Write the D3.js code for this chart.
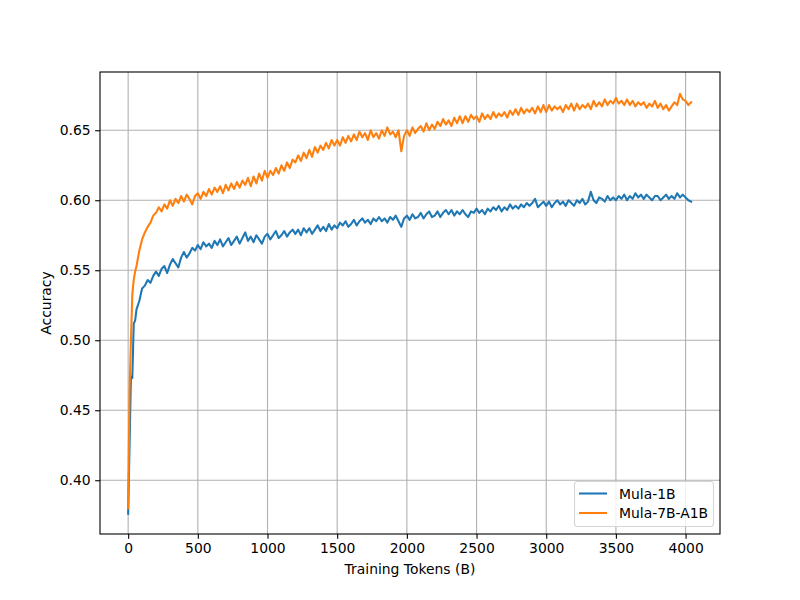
<!DOCTYPE html>
<html>
<head>
<meta charset="utf-8">
<script src="https://cdn.jsdelivr.net/npm/d3@7"></script>
<style>
  html, body { margin: 0; padding: 0; background: #fff; }
  svg { display: block; }
  text { font-family: "DejaVu Sans", sans-serif; }
</style>
</head>
<body>
<svg id="chart" width="800" height="600"></svg>
<script>
// ---- data ----
const seriesNames = ["Mula-1B", "Mula-7B-A1B"];
const seriesColors = ["#1f77b4", "#ff7f0e"];
const xTicks = [0, 500, 1000, 1500, 2000, 2500, 3000, 3500, 4000];
const yTicks = [0.40, 0.45, 0.50, 0.55, 0.60, 0.65];

// checkpoints (billions of tokens): a few early ones, then every 20B
const tokensEarly = [0, 10, 20, 30, 40, 50, 60, 80, 100];
const tokens = tokensEarly.concat(d3.range(120, 4041, 20));

const mula1B = [
  0.376, 0.425, 0.474, 0.473, 0.512, 0.514, 0.522, 0.528, 0.537,
  0.539, 0.543, 0.541, 0.546,
  0.549, 0.546, 0.551, 0.553, 0.548,
  0.554, 0.558, 0.555, 0.552, 0.559,
  0.563, 0.559, 0.562, 0.566, 0.564,
  0.568, 0.565, 0.570, 0.567, 0.569,
  0.566, 0.571, 0.568, 0.572, 0.567,
  0.570, 0.573, 0.568, 0.571, 0.574,
  0.569, 0.573, 0.577, 0.571, 0.574,
  0.570, 0.575, 0.572, 0.569, 0.574,
  0.576, 0.572, 0.575, 0.578, 0.573,
  0.575, 0.578, 0.574, 0.577, 0.579,
  0.576, 0.579, 0.575, 0.580, 0.577,
  0.580, 0.576, 0.579, 0.582, 0.578,
  0.581, 0.578, 0.583, 0.579, 0.582,
  0.580, 0.584, 0.582, 0.585, 0.581,
  0.583, 0.586, 0.582, 0.585, 0.587,
  0.584, 0.586, 0.583, 0.587, 0.585,
  0.588, 0.585, 0.587, 0.584, 0.588,
  0.586, 0.589, 0.585, 0.581, 0.587,
  0.589, 0.586, 0.590, 0.587, 0.588,
  0.591, 0.587, 0.590, 0.592, 0.588,
  0.589, 0.592, 0.588, 0.591, 0.593,
  0.590, 0.593, 0.589, 0.592, 0.590,
  0.593, 0.590, 0.588, 0.592, 0.591,
  0.594, 0.591, 0.593, 0.590, 0.594,
  0.592, 0.595, 0.593, 0.596, 0.592,
  0.595, 0.593, 0.597, 0.594, 0.596,
  0.594, 0.597, 0.595, 0.598, 0.596,
  0.598, 0.601, 0.595, 0.597, 0.599,
  0.596, 0.599, 0.595, 0.598, 0.600,
  0.597, 0.599, 0.596, 0.600, 0.598,
  0.596, 0.600, 0.598, 0.601, 0.597,
  0.599, 0.606, 0.600, 0.598, 0.602,
  0.601, 0.599, 0.603, 0.600, 0.602,
  0.600, 0.603, 0.601, 0.604, 0.600,
  0.603, 0.601, 0.605, 0.602, 0.604,
  0.601, 0.604, 0.602, 0.600, 0.603,
  0.603, 0.600, 0.602, 0.604, 0.601,
  0.603, 0.601, 0.605, 0.602, 0.604,
  0.602, 0.600, 0.599
];

const mula7BA1B = [
  0.380, 0.465, 0.500, 0.533, 0.543, 0.549, 0.553, 0.564, 0.572,
  0.577, 0.581, 0.584, 0.589,
  0.591, 0.595, 0.592, 0.597, 0.594,
  0.600, 0.596, 0.601, 0.598, 0.603,
  0.599, 0.604, 0.601, 0.597, 0.603,
  0.605, 0.601, 0.606, 0.603, 0.608,
  0.604, 0.609, 0.606, 0.610, 0.605,
  0.611, 0.607, 0.612, 0.608, 0.613,
  0.609, 0.614, 0.611, 0.616, 0.610,
  0.617, 0.612, 0.619, 0.614, 0.621,
  0.616, 0.621, 0.618, 0.623, 0.619,
  0.625, 0.621, 0.627, 0.623, 0.629,
  0.627, 0.632, 0.628, 0.634, 0.630,
  0.636, 0.631, 0.638, 0.634, 0.639,
  0.636, 0.641, 0.637, 0.643, 0.639,
  0.643, 0.639, 0.645, 0.641, 0.646,
  0.642, 0.647, 0.643, 0.649, 0.645,
  0.648, 0.643, 0.650, 0.645, 0.648,
  0.644, 0.650, 0.646, 0.652, 0.647,
  0.649, 0.645, 0.650, 0.635, 0.646,
  0.650, 0.646, 0.652, 0.648, 0.651,
  0.653, 0.649, 0.655, 0.650, 0.654,
  0.651, 0.656, 0.653, 0.658, 0.654,
  0.657, 0.653, 0.659, 0.655, 0.660,
  0.655, 0.660, 0.656, 0.661, 0.658,
  0.660, 0.656, 0.662, 0.658, 0.661,
  0.658, 0.663, 0.659, 0.662, 0.660,
  0.663, 0.659, 0.664, 0.661, 0.665,
  0.661, 0.666, 0.662, 0.665, 0.663,
  0.666, 0.662, 0.667, 0.663, 0.668,
  0.663, 0.668, 0.664, 0.667, 0.665,
  0.667, 0.663, 0.668, 0.665, 0.669,
  0.664, 0.669, 0.665, 0.668, 0.666,
  0.669, 0.665, 0.671, 0.667, 0.670,
  0.667, 0.672, 0.668, 0.671, 0.669,
  0.673, 0.669, 0.671, 0.668, 0.672,
  0.668, 0.671, 0.667, 0.670, 0.668,
  0.670, 0.666, 0.669, 0.667, 0.671,
  0.666, 0.669, 0.665, 0.668, 0.664,
  0.667, 0.670, 0.668, 0.676, 0.672,
  0.671, 0.668, 0.670
];

const seriesValues = [mula1B, mula7BA1B];

// ---- layout ----
const W = 800, H = 600;
const m = { left: 100, right: 80, top: 72, bottom: 66 };
const iw = W - m.left - m.right, ih = H - m.top - m.bottom;

const svg = d3.select("#chart");
const g = svg.append("g").attr("transform", `translate(${m.left},${m.top})`);

const x = d3.scaleLinear().domain([-202, 4247]).range([0, iw]);
const y = d3.scaleLinear().domain([0.3616, 0.6916]).range([ih, 0]);

// grid
g.append("g").selectAll("line").data(xTicks).join("line")
  .attr("x1", d => x(d)).attr("x2", d => x(d)).attr("y1", 0).attr("y2", ih)
  .attr("stroke", "#b0b0b0").attr("stroke-width", 1.1);
g.append("g").selectAll("line").data(yTicks).join("line")
  .attr("y1", d => y(d)).attr("y2", d => y(d)).attr("x1", 0).attr("x2", iw)
  .attr("stroke", "#b0b0b0").attr("stroke-width", 1.1);

// lines
const line = d3.line().x(d => x(d[0])).y(d => y(d[1]));
seriesValues.forEach((vals, i) => {
  const pts = tokens.map((t, j) => [t, vals[j]]);
  g.append("path").datum(pts)
    .attr("d", line)
    .attr("fill", "none")
    .attr("stroke", seriesColors[i])
    .attr("stroke-width", 2.08)
    .attr("stroke-linejoin", "round")
    .attr("stroke-linecap", "square");
});

// axes
const xAxis = d3.axisBottom(x).tickValues(xTicks).tickFormat(d3.format("d"))
  .tickSize(4.86).tickPadding(4.5);
const yAxis = d3.axisLeft(y).tickValues(yTicks).tickFormat(d3.format(".2f"))
  .tickSize(4.86).tickPadding(4.5);

const gx = g.append("g").attr("transform", `translate(0,${ih})`).call(xAxis);
const gy = g.append("g").call(yAxis);
[gx, gy].forEach(a => {
  a.select(".domain").remove();
  a.selectAll("line").attr("stroke", "#000").attr("stroke-width", 1.1);
  a.selectAll("text").attr("fill", "#000").style("font-size", "13.9px")
    .style("font-family", "'DejaVu Sans', sans-serif");
});

// spines
g.append("rect").attr("x", 0).attr("y", 0).attr("width", iw).attr("height", ih)
  .attr("fill", "none").attr("stroke", "#000").attr("stroke-width", 1.1);

// axis labels
svg.append("text").attr("x", m.left + iw / 2).attr("y", 574)
  .attr("text-anchor", "middle").style("font-size", "13.9px").text("Training Tokens (B)");
svg.append("text").attr("transform", `translate(51,${m.top + ih / 2}) rotate(-90)`)
  .attr("text-anchor", "middle").style("font-size", "13.9px").text("Accuracy");

// legend
const lg = svg.append("g");
lg.append("rect").attr("x", 574.5).attr("y", 481.5).attr("width", 139).attr("height", 45)
  .attr("rx", 3).attr("fill", "#fff").attr("fill-opacity", 0.8)
  .attr("stroke", "#d6d6d6").attr("stroke-width", 1.1);
seriesNames.forEach((name, i) => {
  const yy = 493.5 + i * 19.5;
  lg.append("line").attr("x1", 579).attr("x2", 607).attr("y1", yy).attr("y2", yy)
    .attr("stroke", seriesColors[i]).attr("stroke-width", 2.08);
  lg.append("text").attr("x", 619).attr("y", yy + 5)
    .style("font-size", "13.9px").attr("fill", "#000").text(name);
});
</script>
</body>
</html>
